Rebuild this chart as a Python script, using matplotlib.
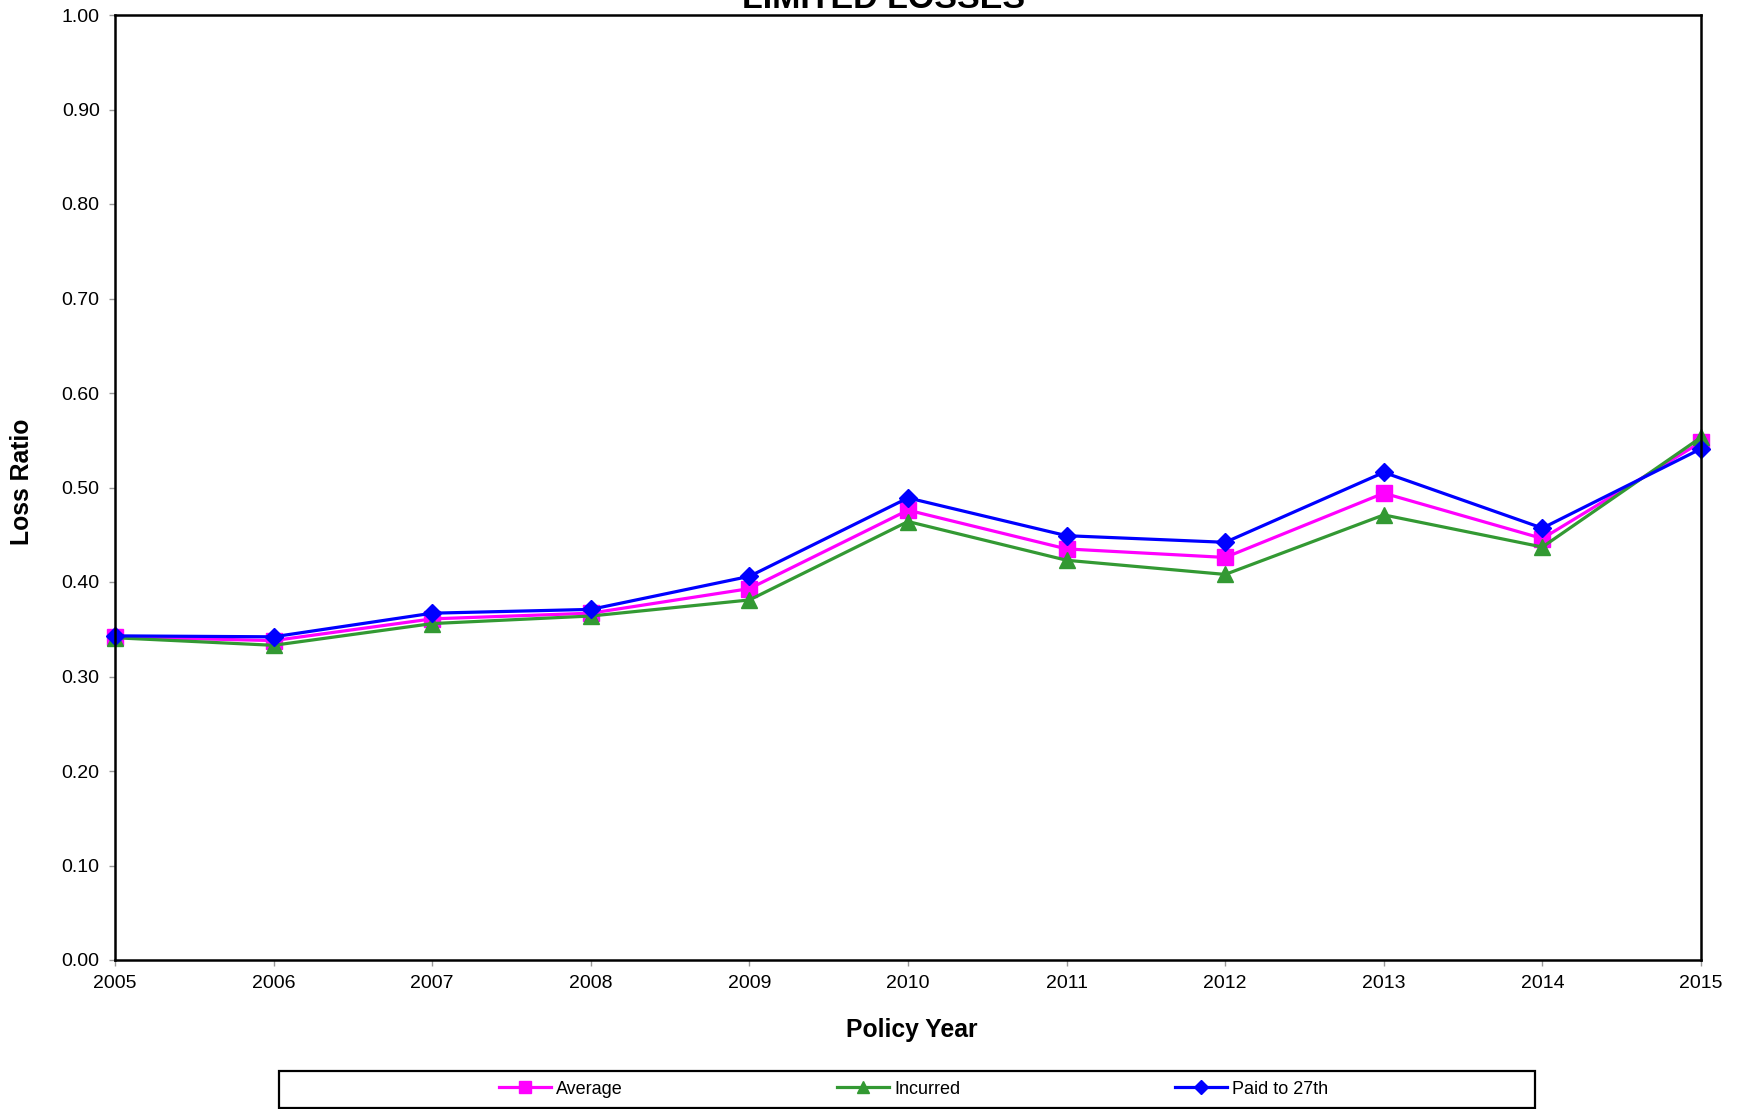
import matplotlib
matplotlib.use("Agg")
import matplotlib.pyplot as plt
from matplotlib.patches import Rectangle
from matplotlib.lines import Line2D

years = [2005, 2006, 2007, 2008, 2009, 2010, 2011, 2012, 2013, 2014, 2015]
average = [0.342, 0.338, 0.361, 0.367, 0.393, 0.476, 0.435, 0.426, 0.494, 0.446, 0.548]
incurred = [0.341, 0.333, 0.356, 0.364, 0.381, 0.464, 0.423, 0.408, 0.471, 0.437, 0.553]
paid_27th = [0.343, 0.342, 0.367, 0.371, 0.406, 0.489, 0.449, 0.442, 0.516, 0.457, 0.541]
y_ticks = [0.0, 0.1, 0.2, 0.3, 0.4, 0.5, 0.6, 0.7, 0.8, 0.9, 1.0]

plt.rcParams["font.family"] = ["Liberation Sans", "DejaVu Sans"]

W, H = 1738, 1109
fig = plt.figure(figsize=(W / 100, H / 100), dpi=100)
ax = fig.add_axes([115 / W, 1 - 960 / H, (1701 - 115) / W, (960 - 15) / H])

series = [
    (average, "Average", "#FF00FF", "s", 11.5),
    (incurred, "Incurred", "#339933", "^", 11.5),
    (paid_27th, "Paid to 27th", "#0000FF", "D", 9.5),
]
for vals, label, color, marker, ms in series:
    ax.plot(years, vals, color=color, marker=marker, markersize=ms, lw=2.3,
            markeredgecolor=color, label=label, clip_on=False)

ax.set_xlim(2005, 2015)
ax.set_ylim(0, 1.0)
ax.set_xticks(years)
ax.set_xticklabels([str(y) for y in years])
ax.set_yticks(y_ticks)
ax.set_yticklabels([f"{v:.2f}" for v in y_ticks])
ax.tick_params(axis="both", labelsize=14, direction="out", length=4, width=1,
               color="#999999")
ax.tick_params(axis="y", pad=7)
ax.tick_params(axis="x", pad=7)
for s in ax.spines.values():
    s.set_linewidth(1.8)

fig.text(912 / W, 1 - 1030 / H, "Policy Year", ha="center", va="center",
         fontsize=17.8, fontweight="bold")
fig.text(22 / W, 1 - 482 / H, "Loss Ratio", ha="center", va="center",
         fontsize=17.8, fontweight="bold", rotation=90)
fig.text(884 / W, 1 - 8 / H, "LIMITED LOSSES", ha="center", va="baseline",
         fontsize=24.5, fontweight="bold")

# legend frame along the bottom
fig.add_artist(Rectangle((279 / W, 1 - 1108 / H), (1535 - 279) / W, (1108 - 1071) / H,
                         transform=fig.transFigure, fill=False, lw=1.6, ec="black"))
legend_x = [499, 837, 1175]
for (vals, label, color, marker, ms), lx in zip(series, legend_x):
    h = Line2D([], [], color=color, marker=marker, markersize=ms * 0.8, lw=2.3,
               markeredgecolor=color)
    fig.legend([h], [label], loc="center left", bbox_to_anchor=(lx / W, 1 - 1089 / H),
               frameon=False, fontsize=13, handlelength=2.9, handletextpad=0.25,
               borderpad=0, borderaxespad=0)

fig.savefig("out.png", dpi=100)
